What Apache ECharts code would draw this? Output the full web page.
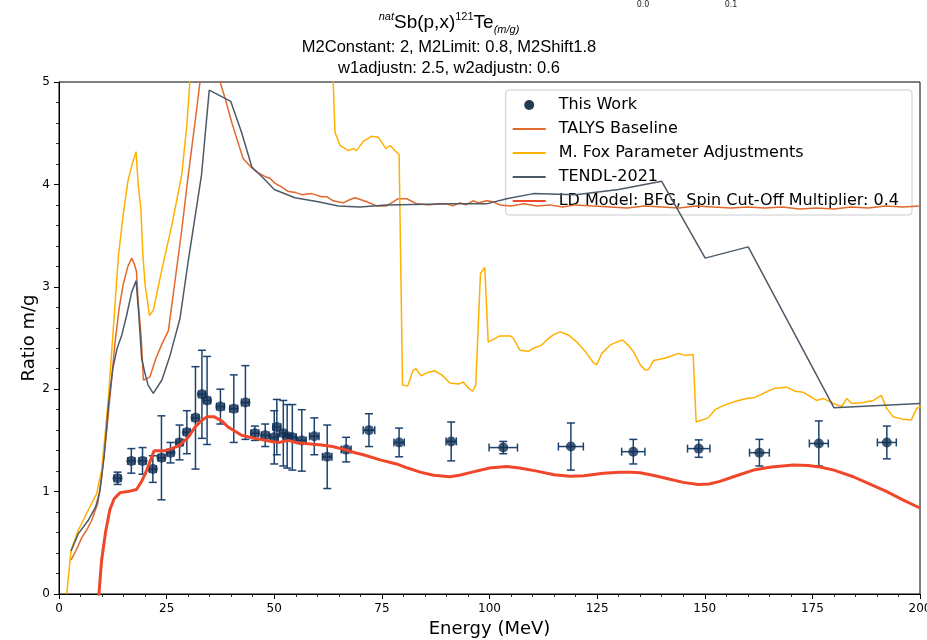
<!DOCTYPE html>
<html>
<head>
<meta charset="utf-8">
<title>natSb(p,x)121Te isomeric ratio</title>
<script src="https://cdn.jsdelivr.net/npm/echarts@6/dist/echarts.min.js"></script>
<style>
  html, body { margin: 0; padding: 0; background: #fff; }
  #chart { width: 927px; height: 640px; }
</style>
</head>
<body>
<div id="chart"></div>
<script>
// Measured isomeric ratios (This Work)
const workEnergy = [13.6, 16.8, 19.4, 21.8, 23.8, 25.9, 28.0, 29.7, 31.7, 33.2, 34.4, 37.5, 40.6, 43.3,
  45.5, 47.9, 50.0, 50.6, 52.1, 53.0, 54.2, 56.4, 59.3, 62.3, 66.7, 72.0, 79.0, 91.1, 103.2, 118.9,
  133.4, 148.6, 162.7, 176.5, 192.3];
const workEnergyErr = [0.8, 0.8, 0.8, 0.8, 0.8, 0.8, 0.8, 0.8, 0.8, 0.8, 0.8, 0.9, 0.9, 0.9,
  0.9, 0.9, 0.9, 0.9, 0.9, 0.9, 0.9, 1.0, 1.1, 1.1, 1.15, 1.35, 1.2, 1.2, 3.3, 2.9,
  2.7, 2.6, 2.3, 2.2, 2.2];
const workRatio = [1.13, 1.30, 1.30, 1.22, 1.33, 1.38, 1.48, 1.58, 1.72, 1.95, 1.89, 1.83, 1.81, 1.87,
  1.57, 1.55, 1.53, 1.63, 1.57, 1.54, 1.53, 1.50, 1.54, 1.34, 1.41, 1.60, 1.48, 1.49, 1.43, 1.44,
  1.39, 1.42, 1.38, 1.47, 1.48];
const workRatioErr = [0.06, 0.12, 0.13, 0.13, 0.41, 0.10, 0.17, 0.21, 0.50, 0.43, 0.43, 0.17, 0.33, 0.36,
  0.07, 0.11, 0.26, 0.27, 0.32, 0.31, 0.32, 0.30, 0.18, 0.31, 0.12, 0.16, 0.14, 0.19, 0.06, 0.23,
  0.12, 0.085, 0.13, 0.22, 0.16];

// TALYS baseline
const talysEnergy = [2.8, 4, 5.3, 6.5, 7.6, 9.0, 9.9, 11.1, 12.2, 13.0, 14.0, 14.9, 16.0, 16.9, 17.5, 18.0,
  18.4, 19.1, 19.6, 20.3, 21.1, 22.5, 24, 25.4, 26.7, 28.5, 30, 32, 32.75, 34, 36, 37.4, 38.6, 40.1,
  41.5, 42.8, 44.8, 46, 47.9, 49, 50.2, 51.5, 53.3, 55, 56.4, 58.7, 61.0, 62.2, 63.7, 66.0, 67.5,
  68.8, 71.5, 73.8, 76.1, 78.8, 80.8, 83.1, 86.2, 88, 90.1, 91.5, 93.1, 94.5, 96.2, 97.5, 99.3,
  100.8, 102.4, 105, 108, 111, 114, 117, 120, 124, 128, 132, 136, 140, 144, 148, 152, 156, 160,
  164, 168, 172, 176, 180, 184, 188, 192, 196, 200];
const talysRatio = [0.33, 0.43, 0.55, 0.63, 0.72, 0.885, 1.15, 1.60, 2.09, 2.45, 2.8, 3.02, 3.20, 3.28, 3.22, 3.15,
  2.85, 2.5, 2.09, 2.10, 2.12, 2.3, 2.45, 2.57, 2.98, 3.55, 4.08, 4.74, 5.0, 5.4, 5.4, 5.0, 4.84, 4.61,
  4.42, 4.25, 4.16, 4.12, 4.075, 4.06, 4.01, 3.98, 3.93, 3.92, 3.90, 3.91, 3.88, 3.88, 3.84, 3.82, 3.85,
  3.87, 3.83, 3.79, 3.79, 3.86, 3.86, 3.81, 3.80, 3.81, 3.81, 3.79, 3.82, 3.80, 3.84, 3.82, 3.84,
  3.83, 3.80, 3.79, 3.81, 3.79, 3.80, 3.78, 3.80, 3.79, 3.78, 3.77, 3.79, 3.78, 3.77, 3.79, 3.78, 3.77, 3.78,
  3.77, 3.78, 3.76, 3.77, 3.76, 3.78, 3.77, 3.79, 3.78, 3.79];

// M. Fox parameter adjustments
const foxEnergy = [1.8, 2.8, 4.5, 6.8, 8.75, 9.9, 10.7, 11.5, 12.6, 13.8, 14.9, 16.0, 17.0, 17.9, 18.4, 19.0,
  19.5, 20.0, 21.0, 21.9, 23.8, 26.2, 28.5, 29.7, 30.4, 31.2, 40, 55, 63.3, 63.7, 64.1, 65.3, 67.2,
  68.4, 69.1, 70.7, 72.6, 74.2, 75.95, 76.9, 79.0, 79.8, 81.0, 82.2, 82.9, 84.1, 85.4, 87.2, 88.9,
  90.8, 92.8, 93.9, 95.1, 96.1, 96.8, 97.9, 98.9, 99.7, 102.4, 104.8, 105.5, 107.1, 109.0, 110.2,
  112.1, 113.3, 114.8, 116.4, 118.3, 120.3, 122.6, 124.1, 124.9, 126.1, 128.0, 129.5, 130.9, 132.2,
  133.4, 135.0, 136.1, 136.9, 138.1, 140.4, 141.9, 143.9, 145.4, 147.3, 148.0, 150.8, 152.4, 154.3,
  157.0, 159.7, 161.7, 163.6, 166.3, 169.0, 171.0, 172.9, 176.0, 177.5, 179.9, 181.8, 183.0, 184.1,
  186.8, 189.2, 191.0, 192.3, 193.8, 195.7, 198.0, 199.2, 200.3];
const foxRatio = [0, 0.43, 0.625, 0.82, 0.98, 1.21, 1.55, 1.93, 2.58, 3.3, 3.70, 4.03, 4.2, 4.32, 4.0, 3.77,
  3.3, 3.02, 2.72, 2.77, 3.15, 3.60, 4.09, 4.58, 5.0, 5.5, 6, 6, 5.4, 5.0, 4.51, 4.38, 4.33,
  4.35, 4.33, 4.42, 4.47, 4.46, 4.35, 4.38, 4.29, 2.04, 2.03, 2.18, 2.20, 2.13, 2.16, 2.18, 2.14,
  2.06, 2.05, 2.07, 2.01, 1.98, 2.04, 3.13, 3.19, 2.46, 2.52, 2.52, 2.50, 2.38, 2.37, 2.40,
  2.43, 2.48, 2.53, 2.56, 2.53, 2.46, 2.35, 2.26, 2.24, 2.35, 2.43, 2.46, 2.48, 2.43,
  2.37, 2.24, 2.19, 2.19, 2.28, 2.30, 2.32, 2.35, 2.33, 2.34, 1.68, 1.72, 1.80, 1.84,
  1.88, 1.91, 1.92, 1.96, 2.01, 2.02, 1.98, 1.97, 1.89, 1.91, 1.86, 1.83, 1.91, 1.86,
  1.87, 1.89, 1.94, 1.81, 1.73, 1.71, 1.70, 1.81, 1.84];

// TENDL-2021 evaluation
const tendlEnergy = [2.8, 4.5, 6.8, 8.5, 9.5, 10.5, 11.5, 12.5, 13.5, 14.6, 15.7, 16.9, 17.9, 18.5, 19.2, 20.0,
  20.7, 21.9, 23.9, 25.8, 28.1, 30, 33.1, 34.9, 39.9, 42.4, 44.8, 47.5, 50, 54.8, 60.2, 64.9, 69.9,
  76.1, 91.6, 99.3, 104, 110.2, 120, 130, 140, 150.1, 160.1, 180, 200];
const tendlRatio = [0.42, 0.59, 0.72, 0.85, 1.0, 1.35, 1.85, 2.2, 2.4, 2.53, 2.72, 2.95, 3.06, 2.75, 2.3, 2.15,
  2.04, 1.96, 2.09, 2.33, 2.69, 3.245, 4.09, 4.92, 4.81, 4.51, 4.17, 4.06, 3.95, 3.87, 3.83, 3.79, 3.78,
  3.80, 3.81, 3.81, 3.86, 3.91, 3.90, 3.95, 4.03, 3.28, 3.39, 1.82, 1.86];

// Level-density model: BFG, spin cut-off multiplier 0.4
const ldEnergy = [8.9, 9.9, 10.8, 11.8, 12.8, 14.2, 16, 18.0, 19.2, 20.4, 22.1, 23.5, 24.6, 26.2, 28.1, 30,
  31.6, 33, 34.3, 36.1, 37.8, 39.3, 40.9, 42.4, 45.5, 49.4, 51, 53.3, 55, 57.1, 61.0, 63.5, 66.4,
  68.8, 70.7, 74.6, 78.4, 81, 83.9, 87, 90.8, 93, 95.5, 100, 104, 107, 111, 115, 118.7, 122, 126.4,
  130.3, 133, 135, 138.5, 141.9, 145, 148.5, 151, 153.5, 157, 161.3, 165.5, 170.6, 174, 176.8, 180,
  184.5, 188, 192.3, 196, 200];
const ldRatio = [-0.2, 0.33, 0.6, 0.82, 0.93, 0.99, 1.0, 1.02, 1.1, 1.21, 1.40, 1.40, 1.40, 1.42, 1.455, 1.53,
  1.63, 1.69, 1.73, 1.73, 1.69, 1.63, 1.59, 1.55, 1.52, 1.49, 1.48, 1.50, 1.48, 1.47, 1.455, 1.44, 1.41,
  1.38, 1.36, 1.31, 1.27, 1.23, 1.19, 1.16, 1.145, 1.16, 1.185, 1.23, 1.245, 1.23, 1.20, 1.165, 1.15, 1.155, 1.18,
  1.19, 1.19, 1.185, 1.155, 1.12, 1.09, 1.07, 1.075, 1.10, 1.15, 1.21, 1.24, 1.26, 1.255, 1.24, 1.21,
  1.145, 1.08, 1.0, 0.92, 0.84];

// Axis ticks
const xTicks = { min: 0, max: 200, step: 25 };
const yTicks = { min: 0, max: 5, step: 1 };

const pairs = (xs, ys) => xs.map((x, i) => [x, ys[i]]);
const FONT = 'DejaVu Sans';
const TITLE_FONT = 'Liberation Sans';
const NAVY = '#132f55';

const chart = echarts.init(document.getElementById('chart'), null, { renderer: 'canvas' });

const lineSeries = (name, xs, ys, color, width, z) => ({
  name, type: 'line', data: pairs(xs, ys), symbol: 'none', showSymbol: false,
  lineStyle: { color, width }, itemStyle: { color }, z, clip: true, silent: true
});

// legend entry for a plain line: hide the marker that line series add to their legend icon
const lineEntry = (name) => ({ name, itemStyle: { opacity: 0 } });

chart.setOption({
  animation: false,
  backgroundColor: '#ffffff',
  textStyle: { fontFamily: FONT },
  grid: {
    left: 59, right: 7, top: 82, bottom: 46, show: true, borderColor: '#000', borderWidth: 1,
    backgroundColor: 'transparent', containLabel: false, outerBoundsMode: 'none'
  },
  xAxis: {
    type: 'value', min: xTicks.min, max: xTicks.max, interval: xTicks.step,
    name: 'Energy (MeV)', nameLocation: 'middle', nameGap: 26, nameMoveOverlap: false,
    nameTextStyle: { fontSize: 18, color: '#000', fontFamily: FONT },
    axisLine: { show: true, onZero: false, lineStyle: { color: '#000', width: 1 } },
    axisTick: { show: true, inside: false, length: 5, lineStyle: { color: '#000', width: 1 } },
    minorTick: { show: true, splitNumber: 5, length: 3, lineStyle: { color: '#000', width: 0.8 } },
    axisLabel: { fontSize: 12, color: '#000', margin: 9, fontFamily: FONT },
    splitLine: { show: false }
  },
  yAxis: {
    type: 'value', min: yTicks.min, max: yTicks.max, interval: yTicks.step,
    name: 'Ratio m/g', nameLocation: 'middle', nameGap: 21, nameRotate: 90, nameMoveOverlap: false,
    nameTextStyle: { fontSize: 18, color: '#000', fontFamily: FONT },
    axisLine: { show: true, onZero: false, lineStyle: { color: '#000', width: 1 } },
    axisTick: { show: true, inside: false, length: 5, lineStyle: { color: '#000', width: 1 } },
    minorTick: { show: true, splitNumber: 5, length: 3, lineStyle: { color: '#000', width: 0.8 } },
    axisLabel: { fontSize: 12, color: '#000', margin: 9, fontFamily: FONT },
    splitLine: { show: false }
  },
  legend: {
    orient: 'vertical', right: 15, top: 90,
    itemWidth: 33, itemHeight: 10, itemGap: 4,
    padding: [5, 13, 4, 6],
    backgroundColor: 'rgba(255,255,255,0.8)',
    borderColor: '#cccccc', borderWidth: 1, borderRadius: 3,
    textStyle: { fontSize: 16, lineHeight: 20, color: '#000', fontFamily: FONT, padding: [0, 0, 0, 8] },
    selectedMode: false,
    data: [
      { name: 'This Work', icon: 'circle', itemStyle: { color: '#253a52', opacity: 1 } },
      lineEntry('TALYS Baseline'),
      lineEntry('M. Fox Parameter Adjustments'),
      lineEntry('TENDL-2021'),
      lineEntry('LD Model: BFG, Spin Cut-Off Multiplier: 0.4')
    ]
  },
  graphic: [
    {
      type: 'text', x: 449, y: 23, z: 10,
      style: {
        text: '{i|nat}{n|Sb(p,x)}{s|121}{n|Te}{b|(m/g)}',
        align: 'center', verticalAlign: 'middle', fill: '#000',
        rich: {
          n: { fontSize: 19, fontFamily: TITLE_FONT, lineHeight: 24, fill: '#000' },
          i: { fontSize: 11, fontFamily: TITLE_FONT, fontStyle: 'italic', verticalAlign: 'top', lineHeight: 14, fill: '#000' },
          s: { fontSize: 11, fontFamily: TITLE_FONT, verticalAlign: 'top', lineHeight: 14, fill: '#000' },
          b: { fontSize: 11, fontFamily: TITLE_FONT, fontStyle: 'italic', verticalAlign: 'bottom', lineHeight: 12, fill: '#000' }
        }
      }
    },
    {
      type: 'text', x: 449, y: 47, z: 10,
      style: { text: 'M2Constant: 2, M2Limit: 0.8, M2Shift1.8', fontSize: 16.5, fontFamily: TITLE_FONT, fill: '#000', align: 'center', verticalAlign: 'middle' }
    },
    {
      type: 'text', x: 449, y: 68, z: 10,
      style: { text: 'w1adjustn: 2.5, w2adjustn: 0.6', fontSize: 16.5, fontFamily: TITLE_FONT, fill: '#000', align: 'center', verticalAlign: 'middle' }
    },
    {
      type: 'text', x: 643, y: 5, z: 10,
      style: { text: '0.0', fontSize: 8, fontFamily: FONT, fill: '#222', align: 'center', verticalAlign: 'middle' }
    },
    {
      type: 'text', x: 731, y: 5, z: 10,
      style: { text: '0.1', fontSize: 8, fontFamily: FONT, fill: '#222', align: 'center', verticalAlign: 'middle' }
    }
  ],
  series: [
    {
      name: 'This Work',
      type: 'custom',
      z: 2,
      silent: true,
      itemStyle: { color: NAVY },
      encode: { x: 0, y: 1 },
      data: workEnergy.map((e, i) => [e, workRatio[i], workEnergyErr[i], workRatioErr[i]]),
      renderItem: function (params, api) {
        const x = api.value(0), y = api.value(1), xe = api.value(2), ye = api.value(3);
        const c = api.coord([x, y]);
        const top = api.coord([x, y + ye])[1];
        const bot = api.coord([x, y - ye])[1];
        const lft = api.coord([x - xe, y])[0];
        const rgt = api.coord([x + xe, y])[0];
        const cap = 4;
        const st = { stroke: '#1d436f', lineWidth: 1.5, fill: null };
        const seg = (x1, y1, x2, y2) => ({ type: 'line', shape: { x1, y1, x2, y2 }, style: st });
        return {
          type: 'group',
          children: [
            seg(c[0], top, c[0], bot),
            seg(c[0] - cap, top, c[0] + cap, top),
            seg(c[0] - cap, bot, c[0] + cap, bot),
            seg(lft, c[1], rgt, c[1]),
            seg(lft, c[1] - cap, lft, c[1] + cap),
            seg(rgt, c[1] - cap, rgt, c[1] + cap)
          ]
        };
      }
    },
    {
      name: 'This Work',
      type: 'scatter',
      z: 3,
      silent: true,
      symbol: 'circle',
      symbolSize: 10,
      itemStyle: { color: NAVY },
      data: pairs(workEnergy, workRatio)
    },
    lineSeries('TALYS Baseline', talysEnergy, talysRatio, '#e2692c', 1.5, 4),
    lineSeries('M. Fox Parameter Adjustments', foxEnergy, foxRatio, '#ffb000', 1.5, 4),
    lineSeries('TENDL-2021', tendlEnergy, tendlRatio, '#4d5a67', 1.5, 4),
    lineSeries('LD Model: BFG, Spin Cut-Off Multiplier: 0.4', ldEnergy, ldRatio, '#f0472b', 3, 5)
  ]
});
</script>
</body>
</html>
